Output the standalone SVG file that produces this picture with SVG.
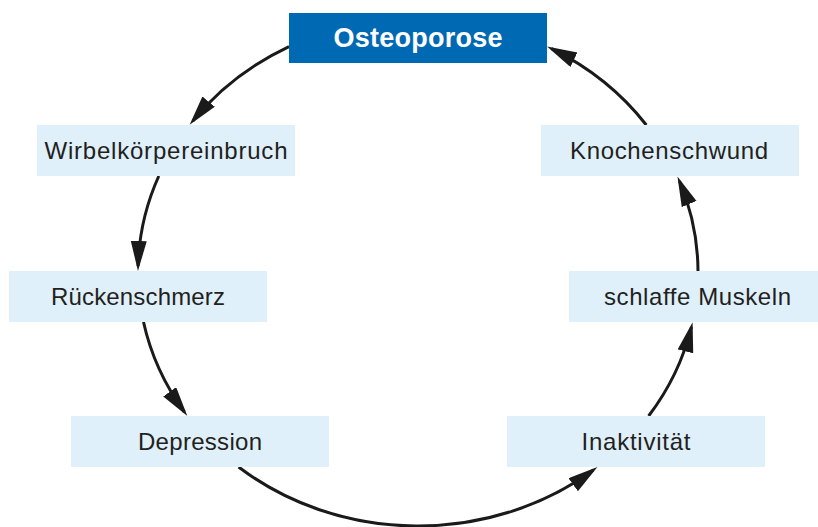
<svg xmlns="http://www.w3.org/2000/svg" width="818" height="527" viewBox="0 0 818 527">
<style>
.box{fill:#dff0fb}
.main{fill:#0069b4}
.lbl{font-family:"Liberation Sans",Arial,sans-serif;font-size:24px;fill:#231f20;text-anchor:middle}
.title{font-family:"Liberation Sans",Arial,sans-serif;font-size:27px;font-weight:bold;fill:#ffffff;text-anchor:middle}
.arc{fill:none;stroke:#1a1a1a;stroke-width:3}
</style>
<defs>
<marker id="ah" markerUnits="userSpaceOnUse" markerWidth="32" markerHeight="18" refX="25" refY="8" orient="auto">
<path d="M0,0 L30,8 L0,16 z" fill="#1a1a1a"/>
</marker>
</defs>
<rect width="818" height="527" fill="#ffffff"/>
<g id="connectors">
<path class="arc" marker-end="url(#ah)" d="M289,46.6 A280,254 0 0 0 192.8,121"/>
<path class="arc" marker-end="url(#ah)" d="M158.8,176 A280,254 0 0 0 138.1,266"/>
<path class="arc" marker-end="url(#ah)" d="M143.5,322 A280,254 0 0 0 184.4,412"/>
<path class="arc" marker-end="url(#ah)" d="M238.6,467 A280,254 0 0 0 593.4,470"/>
<path class="arc" marker-end="url(#ah)" d="M648.6,416 A280,254 0 0 0 691.4,327"/>
<path class="arc" marker-end="url(#ah)" d="M698,271 A280,254 0 0 0 679.4,181"/>
<path class="arc" marker-end="url(#ah)" d="M646.3,125 A280,254 0 0 0 551.5,48.7"/>
</g>
<g id="osteoporose">
<rect class="main" x="289" y="13" width="258" height="50"/>
<text class="title" x="418" y="47" textLength="169">Osteoporose</text>
</g>
<g id="wirbelkoerpereinbruch">
<rect class="box" x="37" y="125" width="258" height="51"/>
<text class="lbl" x="166" y="159.3" textLength="243">Wirbelkörpereinbruch</text>
</g>
<g id="rueckenschmerz">
<rect class="box" x="9" y="271" width="258" height="51"/>
<text class="lbl" x="138" y="305.3" textLength="174">Rückenschmerz</text>
</g>
<g id="depression">
<rect class="box" x="71" y="416" width="258" height="51"/>
<text class="lbl" x="200" y="450.3" textLength="124">Depression</text>
</g>
<g id="inaktivitaet">
<rect class="box" x="507" y="416" width="258" height="51"/>
<text class="lbl" x="636" y="450.3" textLength="109">Inaktivität</text>
</g>
<g id="schlaffe-muskeln">
<rect class="box" x="569" y="271" width="258" height="51"/>
<text class="lbl" x="697.5" y="305.3" textLength="187">schlaffe Muskeln</text>
</g>
<g id="knochenschwund">
<rect class="box" x="541" y="125" width="258" height="51"/>
<text class="lbl" x="669" y="159.3" textLength="198">Knochenschwund</text>
</g>
</svg>
